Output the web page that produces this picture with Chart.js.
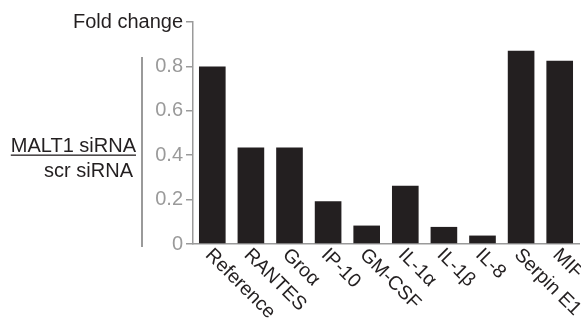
<!DOCTYPE html>
<html>
<head>
<meta charset="utf-8">
<script src="https://cdn.jsdelivr.net/npm/chart.js@4.4.0/dist/chart.umd.min.js"></script>
<style>
  html, body { margin: 0; padding: 0; background: #fff; }
  #wrap { width: 581px; height: 320px; position: relative; }
</style>
</head>
<body>
<div id="wrap"><canvas id="chart"></canvas></div>
<script>
const categories = ["Reference", "RANTES", "Groα", "IP-10", "GM-CSF", "IL-1α", "IL-1β", "IL-8", "Serpin E1", "MIF"];
const foldChange = [0.80, 0.435, 0.435, 0.193, 0.083, 0.262, 0.077, 0.038, 0.871, 0.825];
const yTicks = [0, 0.2, 0.4, 0.6, 0.8, 1.0];

const FONT = "'Liberation Sans', Arial, Helvetica, sans-serif";
const GREY = "#9a9a9a";
const INK = "#231f20";

// rotated category labels + the ratio label on the left
const extras = {
  id: "extras",
  afterDraw(chart) {
    const ctx = chart.ctx;
    const x = chart.scales.x;
    const bottom = chart.chartArea.bottom;
    ctx.save();
    ctx.fillStyle = INK;
    ctx.font = "19.5px " + FONT;
    ctx.textAlign = "left";
    ctx.textBaseline = "top";
    categories.forEach((c, i) => {
      const px = x.getPixelForValue(i);
      ctx.save();
      ctx.translate(px + 3, bottom + 1);
      ctx.rotate(Math.PI / 4);
      ctx.fillText(c, 0, 0);
      ctx.restore();
    });

    // left bracket line
    ctx.strokeStyle = GREY;
    ctx.lineWidth = 2;
    ctx.beginPath();
    ctx.moveTo(142, 57);
    ctx.lineTo(142, 247);
    ctx.stroke();

    ctx.font = "20px " + FONT;
    ctx.textAlign = "right";
    ctx.textBaseline = "alphabetic";
    ctx.fillText("MALT1 siRNA", 136, 152);
    const w = ctx.measureText("MALT1 siRNA").width;
    ctx.fillRect(136 - w, 154.5, w, 1.3);
    ctx.fillText("scr siRNA", 133, 177);
    ctx.restore();
  }
};

new Chart(document.getElementById("chart"), {
  type: "bar",
  data: {
    labels: categories,
    datasets: [{
      data: foldChange,
      backgroundColor: INK,
      borderWidth: 0,
      barPercentage: 0.69,
      categoryPercentage: 1.0
    }]
  },
  options: {
    responsive: true,
    maintainAspectRatio: false,
    animation: false,
    layout: { padding: { top: 22, right: 2, left: 0, bottom: 0 } },
    plugins: { legend: { display: false }, tooltip: { enabled: false } },
    scales: {
      x: {
        grid: { display: false },
        border: { color: GREY, width: 1.5 },
        ticks: { display: false },
        afterFit(scale) { scale.height = 76; }
      },
      y: {
        min: 0,
        max: 1,
        afterBuildTicks(scale) { scale.ticks = yTicks.map(v => ({ value: v })); },
        afterFit(scale) { scale.width = 193; },
        grid: { drawOnChartArea: false, tickLength: 7, color: GREY, lineWidth: 1.5 },
        border: { color: GREY, width: 1.5 },
        ticks: {
          padding: 3,
          font: { family: FONT, size: 20 },
          color: c => (c.tick && c.tick.value === 1 ? INK : GREY),
          callback: v => (v === 1 ? "Fold change" : v === 0 ? "0" : v.toFixed(1))
        }
      }
    }
  },
  plugins: [extras]
});
</script>
</body>
</html>
